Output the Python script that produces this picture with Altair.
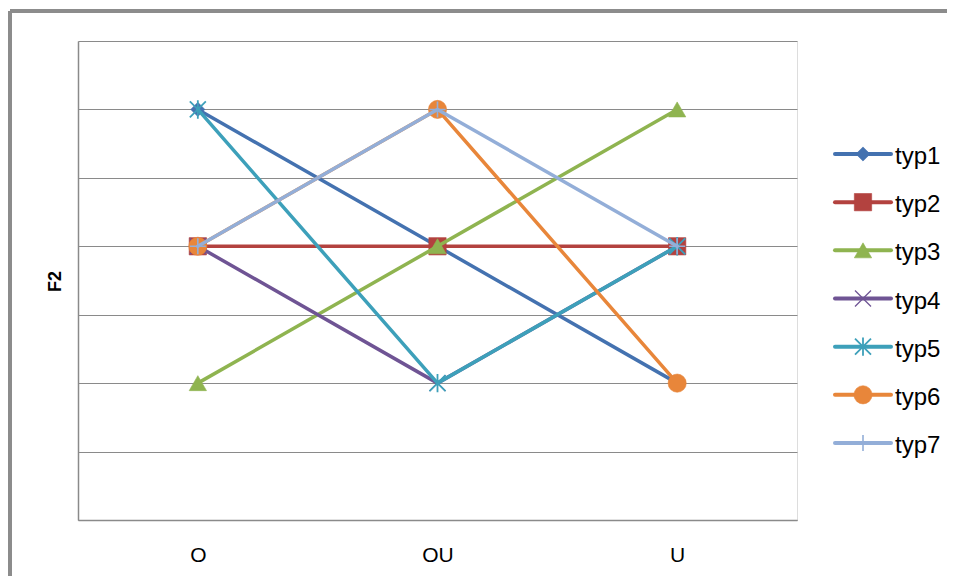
import altair as alt
import pandas as pd

# ---- data ----
categories = ["O", "OU", "U"]
series = ["typ1", "typ2", "typ3", "typ4", "typ5", "typ6", "typ7"]
typ1 = [6, 4, 2]
typ2 = [4, 4, 4]
typ3 = [2, 4, 6]
typ4 = [4, 2, 4]
typ5 = [6, 2, 4]
typ6 = [4, 6, 2]
typ7 = [4, 6, 4]
values = [typ1, typ2, typ3, typ4, typ5, typ6, typ7]
y_ticks = [0, 1, 2, 3, 4, 5, 6, 7]

# ---- styles ----
colors = ["#4472B0", "#B3423F", "#8FB450", "#6F5494", "#3DA0BA", "#E8863A", "#93AED8"]
X_PATH = "M-1,-1L1,1M-1,1L1,-1"
AST_PATH = "M-1,-1L1,1M-1,1L1,-1M0,-1.15L0,1.15"
PLUS_PATH = "M-1,0L1,0M0,-1L0,1"
markers = [
    dict(shape="diamond", filled=True, size=200),
    dict(shape="square", filled=True, size=300),
    dict(shape="triangle-up", filled=True, size=300),
    dict(shape=X_PATH, filled=False, size=256, sw=1.3),
    dict(shape=AST_PATH, filled=False, size=256, sw=1.8),
    dict(shape="circle", filled=True, size=330),
    dict(shape=PLUS_PATH, filled=False, size=256, sw=1.6),
]

W, H = 719, 479
GRAY = "#8a8a8a"
FONT = "Liberation Sans"

x_enc = dict(
    field="cat", type="nominal",
    scale=alt.Scale(type="point", domain=categories, padding=0.5),
    axis=alt.Axis(title=None, ticks=False, grid=False, labelPadding=24,
                  labelFontSize=21, labelColor="#000000", labelFont=FONT,
                  labelAngle=0, domainColor=GRAY, domainWidth=1.5),
)
y_enc = dict(
    field="val", type="quantitative",
    scale=alt.Scale(domain=[0, 7], nice=False, zero=False),
    axis=alt.Axis(title="F2", values=y_ticks, labels=False, ticks=False,
                  grid=True, gridColor=GRAY, gridWidth=1, domainColor=GRAY,
                  domainWidth=1.5, titleFont=FONT, titleFontSize=18,
                  titleFontWeight="bold", titleColor="#000000",
                  titleX=-14, titleY=240),
)


def marker_props(i):
    m = markers[i]
    if m["filled"]:
        return dict(shape=m["shape"], filled=True, fill=colors[i], opacity=1,
                    size=m["size"], stroke=colors[i], strokeWidth=1,
                    strokeOpacity=0.6)
    return dict(shape=m["shape"], filled=False, stroke=colors[i], opacity=1,
                size=m["size"], strokeWidth=m["sw"])


plot_layers = []
for i, s in enumerate(series):
    df = pd.DataFrame({"cat": categories, "val": values[i], "order": [0, 1, 2]})
    line = alt.Chart(df).mark_line(color=colors[i], strokeWidth=3.5,
                                   strokeCap="round", strokeJoin="round").encode(
        x=alt.X(**x_enc), y=alt.Y(**y_enc), order=alt.Order("order:Q"))
    pts = alt.Chart(df).mark_point(**marker_props(i)).encode(
        x=alt.X(**x_enc), y=alt.Y(**y_enc))
    plot_layers += [line, pts]

plot_group = alt.layer(*plot_layers)

# ---- custom legend (line + marker + label) ----
lx = dict(scale=alt.Scale(domain=[0, 1], range=[757, 813]), axis=None)
ly = dict(field="series", type="nominal",
          scale=alt.Scale(type="point", domain=series, range=[113, 402], padding=0),
          axis=None)
legend_layers = []
for i, s in enumerate(series):
    ldf = pd.DataFrame({"series": [s], "x0": [0.0], "x1": [1.0], "xm": [0.5]})
    lline = alt.Chart(ldf).mark_rule(color=colors[i], strokeWidth=4, strokeCap="round").encode(
        x=alt.X("x0:Q", **lx), x2="x1:Q", y=alt.Y(**ly))
    lpt = alt.Chart(ldf).mark_point(**marker_props(i)).encode(
        x=alt.X("xm:Q", **lx), y=alt.Y(**ly))
    legend_layers += [lline, lpt]

txt_df = pd.DataFrame({"series": series, "x1": [1.0] * len(series)})
ltxt = alt.Chart(txt_df).mark_text(align="left", baseline="middle", dx=4, dy=3,
                                   fontSize=24, font=FONT, color="#000000").encode(
    x=alt.X("x1:Q", **lx), y=alt.Y(**ly), text="series:N")
legend_layers.append(ltxt)

# outer frame (top and left borders of the chart area)
border_top = alt.Chart(txt_df).mark_rule(color="#8c8c8c", strokeWidth=3).encode(
    x=alt.value(-68), x2=alt.value(900), y=alt.value(-30))
border_left = alt.Chart(txt_df).mark_rule(color="#8c8c8c", strokeWidth=3).encode(
    x=alt.value(-68), y=alt.value(-30), y2=alt.value(560))
legend_layers += [border_top, border_left]

legend_group = alt.layer(*legend_layers)

chart = alt.layer(plot_group, legend_group).resolve_scale(
    x="independent", y="independent"
).properties(
    width=W, height=H,
    autosize=alt.AutoSizeParams(type="none"),
    padding={"left": 70, "top": 33, "right": 150, "bottom": 56},
).configure_view(stroke=None).configure(background="#ffffff")

chart.save("out.html", embed_options={"renderer": "svg", "actions": False})
